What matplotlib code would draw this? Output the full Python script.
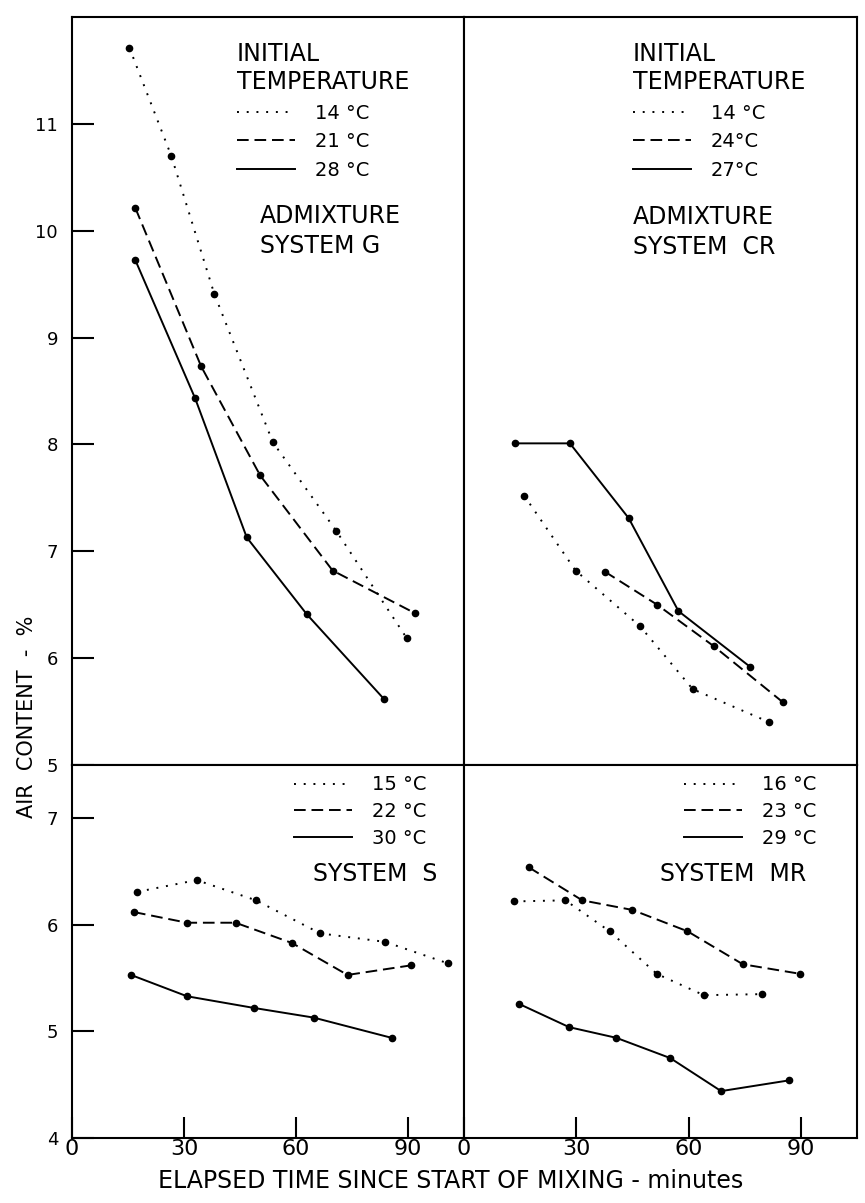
import matplotlib
matplotlib.use("Agg")
import matplotlib.pyplot as plt

# air content (%) against elapsed time (min)
g_temps = ["14 °C", "21 °C", "28 °C"]
g_time = [[15.4, 26.6, 38.1, 53.8, 70.8, 89.6],
          [17.0, 34.6, 50.4, 69.8, 91.9],
          [16.9, 33.0, 46.8, 62.9, 83.5]]
g_air = [[11.71, 10.70, 9.41, 8.02, 7.19, 6.19],
         [10.21, 8.73, 7.71, 6.82, 6.42],
         [9.73, 8.43, 7.13, 6.41, 5.62]]

cr_temps = ["14 °C", "24°C", "27°C"]
cr_time = [[16.1, 29.8, 47.0, 61.1, 81.6],
           [37.6, 51.6, 66.8, 85.1],
           [13.6, 28.3, 44.0, 57.3, 76.4]]
cr_air = [[7.52, 6.82, 6.30, 5.71, 5.40],
          [6.81, 6.50, 6.11, 5.59],
          [8.01, 8.01, 7.31, 6.44, 5.92]]

s_temps = ["15 °C", "22 °C", "30 °C"]
s_time = [[17.5, 33.4, 49.3, 66.5, 83.9, 100.6],
          [16.6, 30.8, 43.8, 58.9, 73.8, 90.8],
          [15.8, 30.8, 48.8, 64.7, 85.6]]
s_air = [[6.31, 6.42, 6.23, 5.92, 5.84, 5.64],
         [6.12, 6.02, 6.02, 5.83, 5.53, 5.62],
         [5.53, 5.33, 5.22, 5.13, 4.94]]

mr_temps = ["16 °C", "23 °C", "29 °C"]
mr_time = [[13.3, 27.1, 38.9, 51.5, 64.1, 79.5],
           [17.3, 31.6, 45.0, 59.7, 74.5, 89.9],
           [14.6, 28.1, 40.7, 55.1, 68.7, 86.7]]
mr_air = [[6.22, 6.23, 5.94, 5.54, 5.34, 5.35],
          [6.54, 6.23, 6.14, 5.94, 5.63, 5.54],
          [5.26, 5.04, 4.94, 4.75, 4.44, 4.54]]

STYLES = [(0, (1, 4)), (0, (6, 3)), "-"]
WORD_FONT = 17   # the lettering is wide, so words get a bigger size
TEMP_FONT = 14

plt.rcParams["font.family"] = ["DejaVu Sans"]

W, H = 865, 1203
fig = plt.figure(figsize=(W / 100, H / 100), dpi=100)

L, MID, R = 72, 464, 857
T, HM, B = 17, 765, 1138


def add_ax(x0, x1, y0, y1):
    return fig.add_axes([x0 / W, 1 - y1 / H, (x1 - x0) / W, (y1 - y0) / H])


ax_g = add_ax(L, MID, T, HM)
ax_cr = add_ax(MID, R, T, HM)
ax_s = add_ax(L, MID, HM, B)
ax_mr = add_ax(MID, R, HM, B)

panels = [
    (ax_g, g_time, g_air, g_temps, (0.421, 0.966), "ADMIXTURE\nSYSTEM G", (0.48, 0.75), True),
    (ax_cr, cr_time, cr_air, cr_temps, (0.43, 0.966), "ADMIXTURE\nSYSTEM  CR", (0.429, 0.748), True),
    (ax_s, s_time, s_air, s_temps, (0.566, 0.972), "SYSTEM  S", (0.615, 0.74), False),
    (ax_mr, mr_time, mr_air, mr_temps, (0.56, 0.972), "SYSTEM  MR", (0.5, 0.74), False),
]

for ax, times, airs, temps, leg_pos, sys_text, sys_pos, top in panels:
    handles = []
    for t, a, lab, ls in zip(times, airs, temps, STYLES):
        ln, = ax.plot(t, a, color="black", lw=1.4, ls=ls, label=lab)
        ax.plot(t, a, "o", color="black", ms=4.5, ls="none")
        handles.append(ln)
    ax.set_xlim(0, 105)
    if top:
        ax.set_ylim(5, 12)
    else:
        ax.set_ylim(4, 7.5)
    for sp in ax.spines.values():
        sp.set_linewidth(1.5)
    ax.legend(handles=handles, loc="upper left", bbox_to_anchor=leg_pos,
              frameon=False, fontsize=TEMP_FONT, handlelength=3.0,
              handletextpad=1.0, labelspacing=0.49 if top else 0.39,
              borderpad=0, borderaxespad=0,
              title="INITIAL\nTEMPERATURE" if top else None,
              title_fontsize=WORD_FONT, alignment="left")
    ax.text(sys_pos[0], sys_pos[1], sys_text, transform=ax.transAxes,
            ha="left", va="top", fontsize=WORD_FONT, linespacing=1.3)

# y axes: only the left column carries ticks and labels
ax_g.set_yticks([5, 6, 7, 8, 9, 10, 11])
ax_s.set_yticks([4, 5, 6, 7])
for ax in (ax_g, ax_s):
    ax.tick_params(axis="y", direction="in", length=16, width=1.5,
                   labelsize=13, pad=10)
for ax in (ax_cr, ax_mr):
    ax.set_yticks([])

# x axes: only the bottom row
for ax in (ax_g, ax_cr):
    ax.set_xticks([])
ax_s.set_xticks([0, 30, 60, 90])
ax_mr.set_xticks([0, 30, 60, 90])
for ax in (ax_s, ax_mr):
    ax.tick_params(axis="x", direction="in", length=15, width=1.5,
                   labelsize=16, pad=1)

fig.text(27 / W, 1 - 717 / H, "AIR  CONTENT  -  %", rotation=90,
         ha="center", va="center", fontsize=15)
fig.text(451 / W, 1 - 1181 / H, "ELAPSED TIME SINCE START OF MIXING - minutes",
         ha="center", va="center", fontsize=WORD_FONT)

fig.savefig("out.png", dpi=100)
